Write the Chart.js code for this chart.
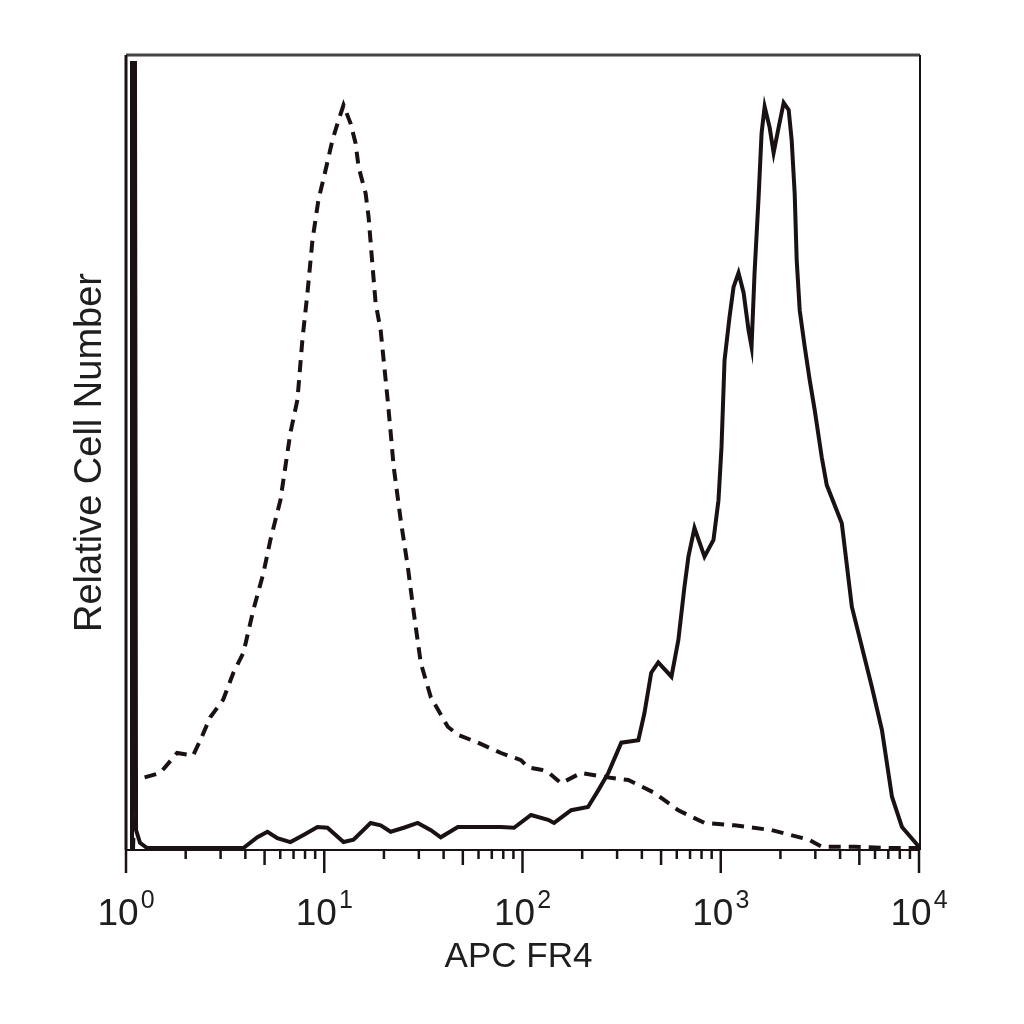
<!DOCTYPE html>
<html>
<head>
<meta charset="utf-8">
<title>APC FR4 histogram</title>
<script src="https://cdn.jsdelivr.net/npm/chart.js@4.4.1/dist/chart.umd.min.js"></script>
<style>
  html, body { margin: 0; padding: 0; background: #ffffff; }
  #wrap { width: 1024px; height: 1024px; }
</style>
</head>
<body>
<div id="wrap"><canvas id="histo" width="1024" height="1024"></canvas></div>
<script>
// Isotype control (dashed) - fluorescence intensity / relative count
const controlIntensity = [1.085, 1.11, 1.49, 1.81, 2.18, 2.37, 2.66, 3.09, 3.48, 3.91, 4.39, 4.93, 5.35, 6.01,
  6.75, 7.32, 7.76, 8.23, 8.72, 9.35, 10.15, 11.0, 11.67, 12.51, 13.57, 14.39, 14.9, 16.17, 16.74, 17.54,
  18.16, 19.25, 19.94, 20.89, 21.63, 22.4, 24.3, 26.4, 28.3, 30.7, 34.5, 42.0, 47.2, 59.6, 77.9, 98.3,
  106.6, 124.0, 134.6, 156.6, 197.6, 258.4, 341.7, 462, 611, 828, 1174, 1806, 2778, 3232, 4747, 7053, 10000];
const controlCount = [0, 8.8, 9.7, 12.2, 11.9, 13.8, 16.7, 18.9, 22.3, 24.8, 30.2, 34.8, 39.0, 44.0,
  52.5, 56.6, 64.2, 70.1, 76.7, 81.8, 85.5, 89.3, 91.4, 93.7, 91.4, 88.9, 85.9, 82.6, 79.6, 73.3,
  68.8, 65.4, 61.6, 56.6, 52.5, 48.2, 41.5, 35.6, 29.8, 23.5, 19.2, 15.5, 14.5, 13.5, 12.2, 11.3,
  10.4, 10.1, 9.8, 8.4, 9.7, 9.2, 8.8, 7.2, 5.0, 3.4, 3.1, 2.5, 1.3, 0.4, 0.4, 0.25, 0.25];

// Stained sample (solid)
const stainedIntensity = [1.06, 1.072, 1.11, 1.124, 1.177, 1.277, 3.91, 4.60, 5.17, 5.80, 6.75, 7.86, 9.24,
  10.38, 12.51, 14.05, 17.13, 19.25, 21.63, 25.2, 29.6, 34.5, 38.7, 47.2, 77.9, 90.6, 110.4, 134.6, 144.3,
  176, 214, 241, 271, 315, 384, 412, 446, 484, 564, 611, 656, 687, 737, 828, 919, 974, 1009, 1045, 1107,
  1160, 1229, 1304, 1381, 1430, 1481, 1552, 1607, 1665, 1764, 1848, 1959, 2077, 2201, 2279, 2360, 2416,
  2502, 2652, 2810, 2980, 3232, 3426, 4079, 4584, 5785, 6501, 7305, 8204, 10000];
const stainedCount = [0.1, 99.0, 99.0, 2.5, 0.9, 0.25, 0.25, 1.6, 2.3, 1.5, 1.0, 1.9, 2.9,
  2.8, 1.0, 1.3, 3.4, 3.1, 2.3, 2.8, 3.4, 2.5, 1.6, 2.9, 2.9, 2.8, 4.4, 3.8, 3.4,
  5.0, 5.4, 7.5, 9.7, 13.5, 13.8, 17.2, 22.3, 23.6, 21.8, 26.4, 33.1, 36.9, 40.5, 36.9, 39.0, 44.0, 50.7, 61.6, 67.0,
  70.8, 72.6, 70.1, 65.4, 63.3, 72.6, 82.1, 90.2, 93.5, 90.9, 87.7, 90.9, 94.0, 93.1, 89.3, 82.6, 74.2,
  67.9, 63.3, 59.1, 55.3, 49.4, 45.9, 41.1, 30.6, 20.5, 15.1, 6.7, 2.9, 0.4];

// Axis ticks
const majorTicks = [1, 10, 100, 1000, 10000];
const tickExponents = ['0', '1', '2', '3', '4'];
const xTitle = 'APC FR4';
const yTitle = 'Relative Cell Number';

const FONT = "'Liberation Sans', Arial, Helvetica, sans-serif";
const INK = '#1a1212';

const toPoints = (xs, ys) => xs.map((x, i) => ({ x, y: ys[i] }));

// Frame, log ticks and labels drawn in FACS style
const facsAxes = {
  id: 'facsAxes',
  afterDraw(chart) {
    const { ctx, chartArea: a, scales: { x } } = chart;
    ctx.save();
    ctx.lineCap = 'butt';

    // frame
    ctx.strokeStyle = '#444';
    ctx.lineWidth = 3;
    ctx.beginPath(); ctx.moveTo(a.left, a.top); ctx.lineTo(a.right + 1, a.top); ctx.stroke();
    ctx.strokeStyle = INK;
    ctx.lineWidth = 3;
    ctx.beginPath(); ctx.moveTo(a.left, a.top); ctx.lineTo(a.left, a.bottom); ctx.stroke();
    ctx.lineWidth = 2;
    ctx.beginPath(); ctx.moveTo(a.right + 1, a.top); ctx.lineTo(a.right + 1, a.bottom); ctx.stroke();
    ctx.beginPath(); ctx.moveTo(a.left, a.bottom); ctx.lineTo(a.right + 1, a.bottom); ctx.stroke();

    // ticks
    ctx.lineWidth = 2.5;
    majorTicks.forEach((v, i) => {
      const px = x.getPixelForValue(v);
      ctx.beginPath(); ctx.moveTo(px, a.bottom); ctx.lineTo(px, a.bottom + 23); ctx.stroke();
      if (i < majorTicks.length - 1) {
        for (let m = 2; m <= 9; m++) {
          const mx = x.getPixelForValue(v * m);
          const len = m === 5 ? 15 : 9;
          ctx.beginPath(); ctx.moveTo(mx, a.bottom); ctx.lineTo(mx, a.bottom + len); ctx.stroke();
        }
      }
    });

    // tick labels 10^n
    ctx.fillStyle = '#1e1e1e';
    ctx.textBaseline = 'alphabetic';
    majorTicks.forEach((v, i) => {
      const px = x.getPixelForValue(v);
      ctx.font = '37px ' + FONT;
      const baseW = ctx.measureText('10').width;
      ctx.font = '25px ' + FONT;
      const supW = ctx.measureText(tickExponents[i]).width;
      const start = px - (baseW + 2 + supW) / 2;
      ctx.font = '37px ' + FONT;
      ctx.textAlign = 'left';
      ctx.fillText('10', start, 925);
      ctx.font = '25px ' + FONT;
      ctx.fillText(tickExponents[i], start + baseW + 2, 908);
    });

    // axis titles
    ctx.font = '35px ' + FONT;
    ctx.textAlign = 'center';
    ctx.fillText(xTitle, (a.left + a.right) / 2 - 4, 967);

    ctx.save();
    ctx.translate(101, (a.top + a.bottom) / 2);
    ctx.rotate(-Math.PI / 2);
    ctx.font = '38px ' + FONT;
    ctx.fillText(yTitle, 0, 0);
    ctx.restore();

    ctx.restore();
  }
};

new Chart(document.getElementById('histo'), {
  type: 'line',
  data: {
    datasets: [
      {
        label: 'Isotype control',
        data: toPoints(controlIntensity, controlCount),
        borderColor: INK,
        borderWidth: 4,
        borderDash: [12, 8],
        pointRadius: 0,
        tension: 0,
        fill: false
      },
      {
        label: 'APC FR4',
        data: toPoints(stainedIntensity, stainedCount),
        borderColor: INK,
        borderWidth: 4,
        pointRadius: 0,
        tension: 0,
        fill: false
      }
    ]
  },
  options: {
    responsive: false,
    animation: false,
    devicePixelRatio: 1,
    layout: { padding: { left: 126, right: 105, top: 55, bottom: 174 } },
    scales: {
      x: { type: 'logarithmic', min: 1, max: 10000, display: false },
      y: { type: 'linear', min: 0, max: 100, display: false }
    },
    plugins: {
      legend: { display: false },
      tooltip: { enabled: false }
    }
  },
  plugins: [facsAxes]
});
</script>
</body>
</html>
